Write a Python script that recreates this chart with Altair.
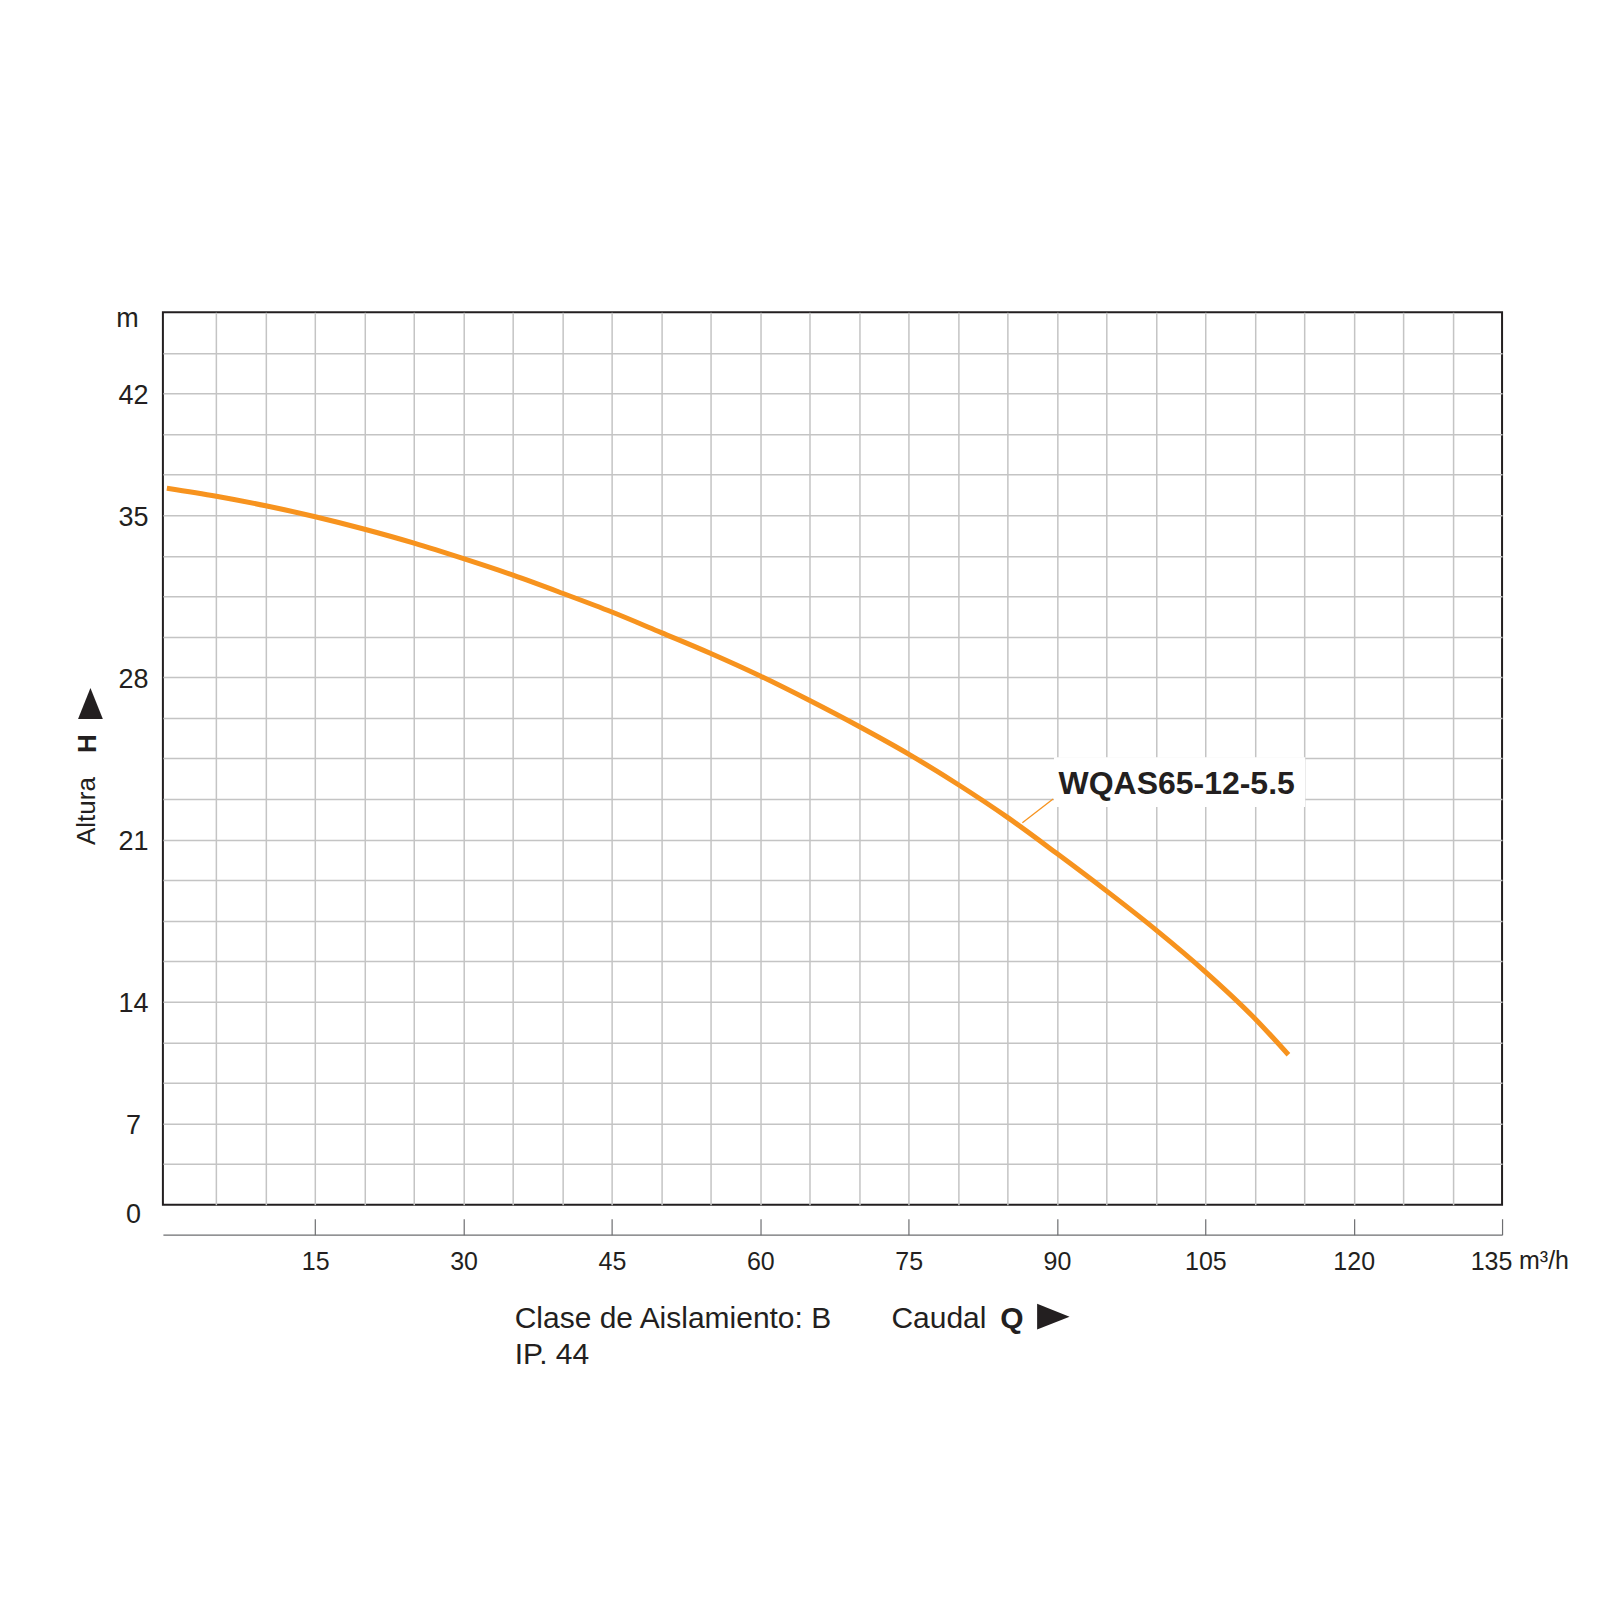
import altair as alt
import pandas as pd

# ---- data ----
Q = [0, 5, 10, 15, 20, 25, 30, 35, 40, 45, 50, 55, 60, 65, 70, 75, 80, 85, 90, 95,
     100, 105, 110, 113.4]
H = [36.55, 36.09, 35.54, 34.93, 34.39, 33.79, 33.12, 32.41, 31.63, 30.82, 29.93, 29.03,
     28.06, 27.0, 25.88, 24.69, 23.38, 21.96, 20.4, 18.79, 17.11, 15.3, 13.05, 10.96]
MODEL = "WQAS65-12-5.5"

X_LABELS = [15, 30, 45, 60, 75, 90, 105, 120, 135]
X_GRID = [5, 10, 15, 20, 25, 30, 35, 40, 45, 50, 55, 60, 65, 70, 75, 80, 85, 90, 95,
          100, 105, 110, 115, 120, 125, 130]
Y_LABELS = [0, 7, 14, 21, 28, 35, 42]
Y_GRID = [3.5, 7, 9.3333, 11.6667, 14, 15.75, 17.5, 19.25, 21, 22.75, 24.5, 26.25,
          28, 29.75, 31.5, 33.25, 35, 37.3333, 39.6667, 42, 44.3333]
# the printed axis is not linear: labelled values sit on these grid steps
Y_BREAKS = [0, 7, 14, 21, 28, 35, 42, 46.6667]
Y_BREAK_STEPS = [0, 2, 5, 9, 13, 17, 20, 22]

W, HT = 1340, 893
STEP = HT / 22.0
Y_RANGE = [HT - s * STEP for s in Y_BREAK_STEPS]

INK = "#231f20"
ORANGE = "#f7931e"
GRID = "#c4c4c4"
AXIS_GRAY = "#6d6e71"
FONT = "Liberation Sans"

# annotation anchors (data coordinates)
LABEL_POS = {"x": 102.1, "y": 23.4}
BOX = {"x": 89.7, "x2": 115.1, "y": 22.41, "y2": 24.56}
LEADER = {"x": 89.6, "y": 22.75, "x2": 86.5, "y2": 21.73}

curve = pd.DataFrame({"q": Q, "h": H})

xscale = alt.Scale(domain=[-0.4, 135], nice=False, zero=False)
yscale = alt.Scale(domain=Y_BREAKS, range=Y_RANGE, nice=False, zero=False)

x_grid_axis = alt.Axis(
    orient="bottom", values=X_GRID, grid=True, gridColor=GRID, gridWidth=1.5,
    ticks=False, labels=False, domain=False, title=None,
)
x_label_axis = alt.Axis(
    orient="bottom", offset=30, values=X_LABELS, grid=False,
    ticks=False, tickSize=0, domain=True, domainColor=AXIS_GRAY, domainWidth=1.2,
    labelFont=FONT, labelFontSize=25, labelColor=INK, labelPadding=15,
    labelBaseline="top", labelAlign="center", labelFlush=False, labelOverlap=False,
    labelOffset={"condition": {"test": "datum.value === 135", "value": -11}, "value": 0},
    title=None,
)
x_tick_axis = alt.Axis(
    orient="bottom", offset=14, values=X_LABELS, grid=False, ticks=True, tickSize=16,
    tickColor=AXIS_GRAY, tickWidth=1.2, domain=False, labels=False, title=None,
)
y_grid_axis = alt.Axis(
    orient="left", values=Y_GRID, grid=True, gridColor=GRID, gridWidth=1.5,
    ticks=False, labels=False, domain=False, title=None,
)
y_label_axis = alt.Axis(
    orient="left", values=Y_LABELS, grid=False, ticks=False, tickSize=0, domain=False,
    labelFont=FONT, labelFontSize=27, labelColor=INK, labelAlign="center",
    labelBaseline="middle", labelPadding=30, labelFlush=False, labelOverlap=False,
    labelOffset={"condition": {"test": "datum.value === 0", "value": 10}, "value": 2},
    title="m", titleAngle=0, titleX=-36, titleY=6, titleAlign="center",
    titleBaseline="middle", titleFont=FONT, titleFontSize=27, titleFontWeight="normal",
    titleColor=INK,
)

box = alt.Chart(pd.DataFrame([BOX])).mark_rect(color="white").encode(
    x=alt.X("x:Q", scale=xscale, axis=x_grid_axis), x2="x2:Q",
    y=alt.Y("y:Q", scale=yscale, axis=y_grid_axis), y2="y2:Q",
)

leader = alt.Chart(pd.DataFrame([LEADER])).mark_rule(color=ORANGE, strokeWidth=1.3).encode(
    x=alt.X("x:Q", scale=xscale, axis=x_tick_axis), x2="x2:Q",
    y=alt.Y("y:Q", scale=yscale, axis=None), y2="y2:Q",
)

line = alt.Chart(curve).mark_line(color=ORANGE, strokeWidth=5, interpolate="monotone").encode(
    x=alt.X("q:Q", scale=xscale, axis=x_label_axis),
    y=alt.Y("h:Q", scale=yscale, axis=y_label_axis),
)

label = alt.Chart(pd.DataFrame([{**LABEL_POS, "t": MODEL}])).mark_text(
    font=FONT, fontSize=32, fontWeight="bold", color=INK, align="center", baseline="middle"
).encode(
    x=alt.X("x:Q", scale=xscale, axis=None),
    y=alt.Y("y:Q", scale=yscale, axis=None),
    text="t:N",
)

unit = alt.Chart(pd.DataFrame({"x": [135], "t": ["m³/h"]})).mark_text(
    font=FONT, fontSize=25, color=INK, align="left", baseline="alphabetic", dx=17
).encode(
    x=alt.X("x:Q", scale=xscale, axis=None), y=alt.value(957), text="t:N"
)


def txt(t, x, y, size, bold=False, angle=0):
    return alt.Chart(pd.DataFrame({"t": [t]})).mark_text(
        font=FONT, fontSize=size, fontWeight="bold" if bold else "normal", color=INK,
        align="left", baseline="alphabetic", angle=angle,
    ).encode(x=alt.value(x), y=alt.value(y), text="t:N")


def tri(path, x, y, size):
    return alt.Chart(pd.DataFrame({"t": [0]})).mark_point(
        shape=path, size=size, filled=True, color=INK, opacity=1, strokeWidth=0
    ).encode(x=alt.value(x), y=alt.value(y))


notes = [
    txt("Clase de Aislamiento: B", 352, 1016, 30),
    txt("IP. 44", 352, 1052, 30),
    txt("Caudal", 729, 1016, 30),
    txt("Q", 838, 1016, 30, bold=True),
    tri("M-1,-0.79L1,0L-1,0.79Z", 891, 1005, 1056),
    txt("Altura", -68, 533, 26, angle=270),
    txt("H", -67, 441, 26, bold=True, angle=270),
    tri("M-0.8,1L0,-1L0.8,1Z", -72.5, 391.5, 961),
]

chart = alt.layer(box, leader, line, label, unit, *notes).resolve_axis(
    x="independent", y="independent"
).properties(
    width=W, height=HT, autosize="none", background="white",
    padding={"left": 155, "top": 304, "right": 90, "bottom": 380},
).configure_view(stroke=INK, strokeWidth=2)

chart.save("out.html", embed_options={"renderer": "svg", "actions": False})
